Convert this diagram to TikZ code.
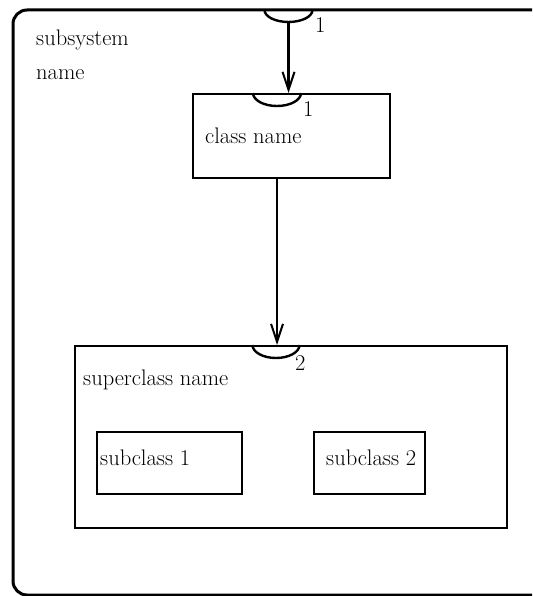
\documentclass[tikz,border=0pt]{standalone}
\usepackage{fontspec}
\usetikzlibrary{arrows.meta}
\tikzset{
  box/.style={draw, line width=2.4pt, inner sep=0pt, anchor=north west},
  lbl/.style={font=\fontsize{22.5}{26}\selectfont, inner sep=0pt, anchor=base west},
  portarc/.style={line width=2.4pt},
  flow/.style={line width=2.4pt, -{Straight Barb[length=18pt,width=12pt,line width=2pt]}}
}
\begin{document}
\begin{tikzpicture}[x=1pt,y=-1pt]
\useasboundingbox (0,0) rectangle (532,596);

% subsystem frame, open towards the right edge
\draw[line width=3pt, rounded corners=14pt]
  (532,10) -- (13,10) -- (13,595) -- (532,595);
\node[lbl] (subsys1) at (36,46) {subsystem};
\node[lbl] (subsys2) at (36,80) {name};

% entry port on the subsystem frame
\draw[portarc] (264.5,10) arc[start angle=180, end angle=360, x radius=24pt, y radius=12pt];
\coordinate (topport) at (288.5,22);
\node[lbl] (n1) at (315,33) {1};

% class
\node[box, minimum width=197pt, minimum height=84pt] (cls) at (192,93) {};
\node[lbl] (clsname) at (205,143) {class name};
\draw[portarc] (253,93) arc[start angle=180, end angle=360, x radius=24pt, y radius=13pt];
\node[lbl] (n2) at (303,117) {1};

% superclass
\node[box, minimum width=432pt, minimum height=182pt] (super) at (74,345) {};
\node[lbl] (supname) at (83,385) {superclass name};
\draw[portarc] (252.5,345) arc[start angle=180, end angle=360, x radius=23.5pt, y radius=13pt];
\coordinate (superport) at (277,345);
\node[lbl] (n3) at (295,370) {2};

% subclasses
\node[box, minimum width=145pt, minimum height=62pt] (sub1) at (96,431) {};
\node[lbl] (sub1name) at (100,465) {subclass 1};
\node[box, minimum width=111pt, minimum height=62pt] (sub2) at (313,431) {};
\node[lbl] (sub2name) at (326,465) {subclass 2};

% connectors
\draw[flow] (topport) -- (topport |- cls.north);
\draw[flow] (superport |- cls.south) -- (superport);
\end{tikzpicture}
\end{document}
